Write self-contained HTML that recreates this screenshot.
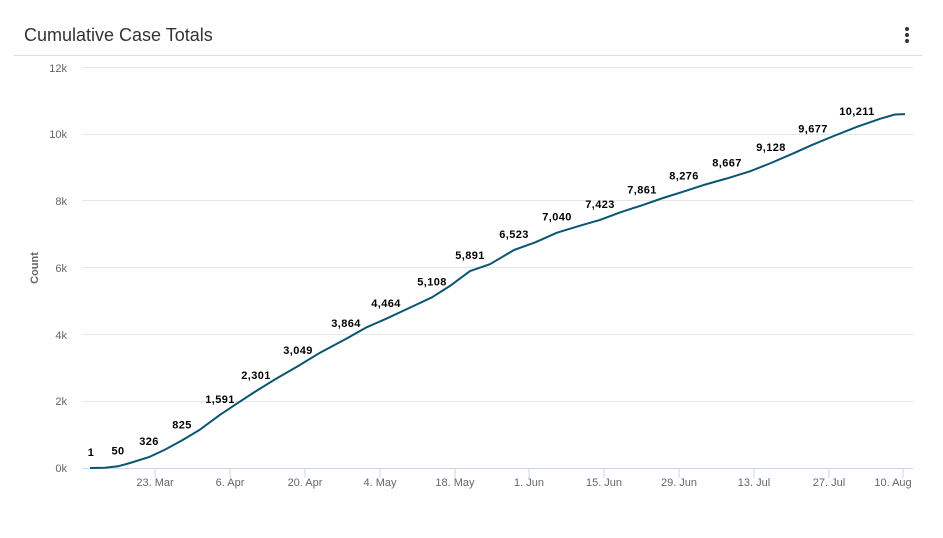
<!DOCTYPE html>
<html><head><meta charset="utf-8"><style>
body{margin:0;background:#fff;font-family:"Liberation Sans",sans-serif;}
</style></head><body>
<svg width="943" height="533" xmlns="http://www.w3.org/2000/svg" font-family="Liberation Sans, sans-serif">
<rect width="943" height="533" fill="#fff"/>
<text x="24" y="41" font-size="18" fill="#333">Cumulative Case Totals</text>
<circle cx="907" cy="29" r="2" fill="#333"/><circle cx="907" cy="35" r="2" fill="#333"/><circle cx="907" cy="41" r="2" fill="#333"/>
<line x1="14" y1="55.5" x2="922" y2="55.5" stroke="#ddd"/>
<g stroke="#e6e6e6">
<line x1="82" y1="67.5" x2="913" y2="67.5"/><line x1="82" y1="134.5" x2="913" y2="134.5"/><line x1="82" y1="200.5" x2="913" y2="200.5"/><line x1="82" y1="267.5" x2="913" y2="267.5"/><line x1="82" y1="334.5" x2="913" y2="334.5"/><line x1="82" y1="401.5" x2="913" y2="401.5"/>
</g>
<line x1="82" y1="468.5" x2="913" y2="468.5" stroke="#ccd6eb"/>
<g stroke="#ccd6eb">
<line x1="155" y1="468" x2="155" y2="478"/><line x1="230" y1="468" x2="230" y2="478"/><line x1="305" y1="468" x2="305" y2="478"/><line x1="380" y1="468" x2="380" y2="478"/><line x1="455" y1="468" x2="455" y2="478"/><line x1="529" y1="468" x2="529" y2="478"/><line x1="604" y1="468" x2="604" y2="478"/><line x1="679" y1="468" x2="679" y2="478"/><line x1="754" y1="468" x2="754" y2="478"/><line x1="829" y1="468" x2="829" y2="478"/><line x1="903" y1="468" x2="903" y2="478"/>
</g>
<g font-size="11" fill="#666" text-anchor="end">
<text x="67" y="72">12k</text><text x="67" y="138">10k</text><text x="67" y="205">8k</text><text x="67" y="272">6k</text><text x="67" y="339">4k</text><text x="67" y="405">2k</text><text x="67" y="472">0k</text>
</g>
<g font-size="11" fill="#666" text-anchor="middle">
<text x="155" y="486">23. Mar</text><text x="230" y="486">6. Apr</text><text x="305" y="486">20. Apr</text><text x="380" y="486">4. May</text><text x="455" y="486">18. May</text><text x="529" y="486">1. Jun</text><text x="604" y="486">15. Jun</text><text x="679" y="486">29. Jun</text><text x="754" y="486">13. Jul</text><text x="829" y="486">27. Jul</text><text x="893" y="486">10. Aug</text>
</g>
<text transform="translate(38,268) rotate(-90)" font-size="11" font-weight="bold" fill="#666" text-anchor="middle">Count</text>
<g id="series"></g>
</svg>
<script>
var pts=[[90,1],[105,10],[118,50],[130,150],[149,326],[165,550],[182,825],[200,1150],[220,1591],[238,1950],[256,2301],[275,2650],[298,3049],[320,3450],[346,3864],[366,4200],[386,4464],[410,4800],[432,5108],[450,5450],[470,5891],[490,6100],[514,6523],[535,6750],[557,7040],[580,7250],[600,7423],[620,7650],[642,7861],[663,8080],[684,8276],[705,8480],[727,8667],[750,8880],[771,9128],[792,9400],[813,9677],[835,9950],[857,10211],[880,10450],[895,10580],[905,10590]];
function Y(v){return 468-v*401/12000;}
var d=pts.map(function(p,i){return (i?'L':'M')+p[0]+' '+Y(p[1]).toFixed(1);}).join(' ');
var g=document.getElementById('series');
var s='<path d="'+d+'" fill="none" stroke="#0b5573" stroke-width="2" stroke-linejoin="round"/>';
var labs=[[91,1],[118,50],[149,326],[182,825],[220,1591],[256,2301],[298,3049],[346,3864],[386,4464],[432,5108],[470,5891],[514,6523],[557,7040],[600,7423],[642,7861],[684,8276],[727,8667],[771,9128],[813,9677],[857,10211]];
labs.forEach(function(l){s+='<text x="'+l[0]+'" y="'+(Y(l[1])-12).toFixed(1)+'" font-size="11" font-weight="bold" fill="#000" text-anchor="middle" letter-spacing="0.4">'+l[1].toLocaleString('en-US')+'</text>';});
g.innerHTML=s;
</script>
</body></html>
